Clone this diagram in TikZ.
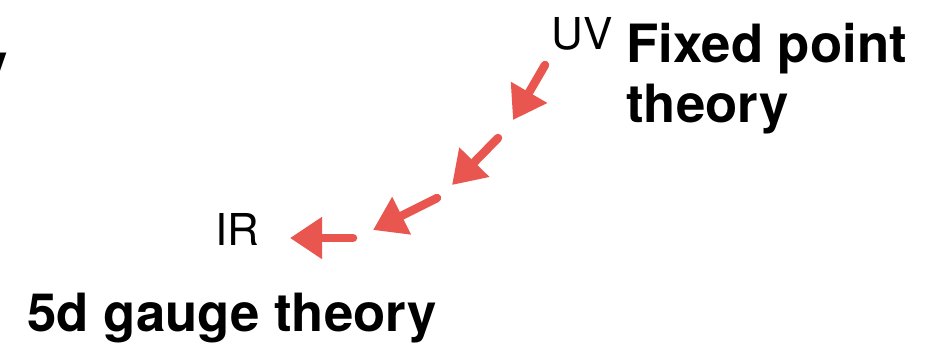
\documentclass[tikz,border=0pt]{standalone}
\usepackage{fontspec}
\setmainfont{TeX Gyre Heros}
\usepackage{tikz}
\usetikzlibrary{
  arrows.meta,
  positioning
}
\definecolor{ChalkRed}{HTML}{E8564F}
\definecolor{InkBlack}{HTML}{000000}
\tikzset{
  % Scale label (UV / IR)
  lbl/.style={
    inner sep=0pt, color=InkBlack,
    font=\fontsize{25}{30}\selectfont
  },
  % Bold theory title
  ttl/.style={
    inner sep=0pt, color=InkBlack, align=left,
    font=\fontsize{30}{34}\selectfont\bfseries
  },
  % Flow arrow
  flow/.style={
    -{Triangle[length=0.64cm,width=0.80cm]},
    line width=0.17cm, line cap=round, color=ChalkRed
  }
}
\begin{document}
\begin{tikzpicture}

  \clip (0,0) rectangle (18.54,-6.86);

  % Cut-off letter at left edge
  \node[ttl, anchor=base east] (cut) at (0.17,-1.62) {y};

  % UV end
  \node[lbl, anchor=base west] (uv) at (11.02,-0.98) {UV};
  \node[ttl, anchor=base west] (fixed) at (12.52,-2.44) {Fixed point\\theory};

  % IR end
  \node[lbl, anchor=base west] (ir) at (4.30,-4.90) {IR};
  \node[ttl, anchor=base west] (gauge) at (0.54,-6.62) {5d gauge theory};

  % Flow points
  \coordinate (s1) at (10.90,-1.30);
  \coordinate (e1) at (10.26,-2.40);
  \coordinate (s2) at (9.96,-2.76);
  \coordinate (e2) at (9.04,-3.70);
  \coordinate (s3) at (8.74,-3.96);
  \coordinate (e3) at (7.46,-4.60);
  \coordinate (s4) at (7.06,-4.76);
  \coordinate (e4) at (5.80,-4.76);

  % RG flow
  \foreach \i in {1,...,4}
    \draw[flow] (s\i) -- (e\i);

\end{tikzpicture}
\end{document}
